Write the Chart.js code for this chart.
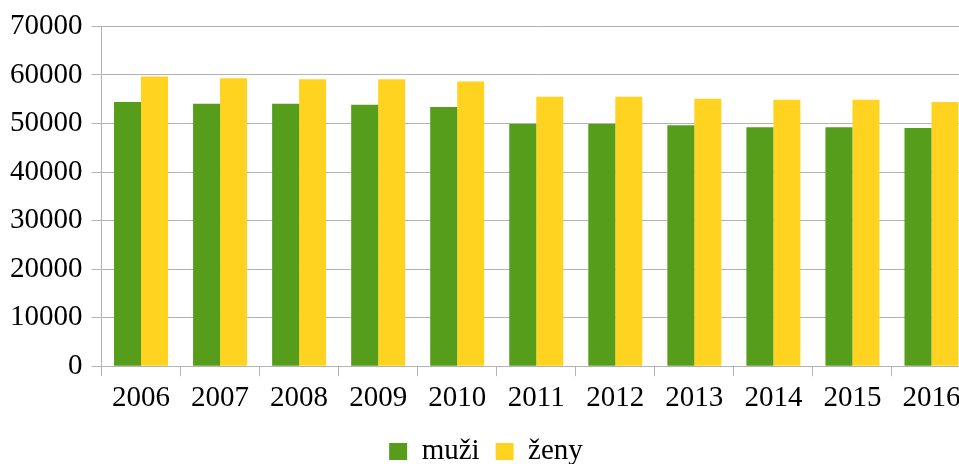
<!DOCTYPE html>
<html>
<head>
<meta charset="utf-8">
<script src="https://cdn.jsdelivr.net/npm/chart.js@4/dist/chart.umd.min.js"></script>
<style>
html,body{margin:0;padding:0;background:#fff;overflow:hidden;width:959px;height:464px;}
#wrap{position:absolute;left:0;top:0;width:980px;height:476px;}
</style>
</head>
<body>
<div id="wrap"><canvas id="c" width="980" height="476"></canvas></div>
<script>
const years = ['2006','2007','2008','2009','2010','2011','2012','2013','2014','2015','2016'];
const muzi = [54450, 54050, 54050, 53850, 53400, 49900, 49900, 49650, 49250, 49250, 49050];
const zeny = [59700, 59300, 59100, 59100, 58650, 55500, 55500, 55100, 54900, 54900, 54450];
const seriesNames = ['muži', 'ženy'];
const yTicks = [0, 10000, 20000, 30000, 40000, 50000, 60000, 70000];

const font = {family: '"Liberation Serif", "Times New Roman", serif', size: 29};
new Chart(document.getElementById('c'), {
  type: 'bar',
  data: {
    labels: years,
    datasets: [
      {label: seriesNames[0], data: muzi, backgroundColor: '#579d1c', borderWidth: 0},
      {label: seriesNames[1], data: zeny, backgroundColor: '#ffd320', borderWidth: 0}
    ]
  },
  options: {
    responsive: false,
    animation: false,
    devicePixelRatio: 1,
    layout: {padding: {left: 1, right: 9, top: 25, bottom: 0}},
    datasets: {bar: {categoryPercentage: 0.683, barPercentage: 1}},
    plugins: {
      tooltip: {enabled: false},
      legend: {
        position: 'bottom',
        labels: {font: font, color: '#000', boxWidth: 18, boxHeight: 17, padding: 16}
      }
    },
    scales: {
      x: {
        grid: {display: true, drawOnChartArea: false, drawTicks: true, tickLength: 10, color: '#b3b3b3', offset: true},
        border: {color: '#b3b3b3'},
        ticks: {font: font, color: '#000', padding: 5, maxRotation: 0, autoSkip: false}
      },
      y: {
        min: 0, max: 70000,
        afterBuildTicks: (axis) => { axis.ticks = yTicks.map(v => ({value: v})); },
        grid: {color: '#b3b3b3', tickLength: 10, lineWidth: 1},
        border: {color: '#b3b3b3'},
        ticks: {font: font, color: '#000', padding: 9, callback: v => String(v)}
      }
    }
  }
});
</script>
</body>
</html>
